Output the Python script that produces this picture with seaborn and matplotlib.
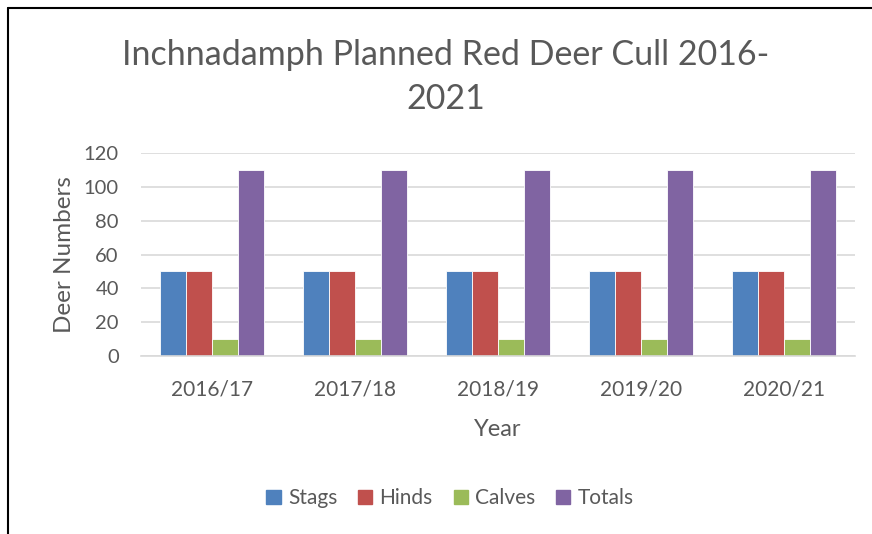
import numpy as np
import pandas as pd
import matplotlib
matplotlib.use('agg')
import matplotlib.pyplot as plt
import seaborn as sns
from matplotlib.lines import Line2D

years = ["2016/17", "2017/18", "2018/19", "2019/20", "2020/21"]
stags = [50, 50, 50, 50, 50]
hinds = [50, 50, 50, 50, 50]
calves = [10, 10, 10, 10, 10]
totals = [110, 110, 110, 110, 110]
series = ["Stags", "Hinds", "Calves", "Totals"]
colors = ["#4F81BD", "#C0504D", "#9BBB59", "#8064A2"]

df = pd.DataFrame({
    "Year": years * 4,
    "Series": [s for s in series for _ in years],
    "Value": stags + hinds + calves + totals,
})

sns.set_style("white")
plt.rcParams['font.family'] = ['Lato', 'DejaVu Sans']
txt = "#595959"

fig = plt.figure(figsize=(8.72, 5.34), dpi=100)
ax = fig.add_axes([141/872, 178/534, 714/872, 203/534])

sns.barplot(data=df, x="Year", y="Value", hue="Series", palette=colors,
            saturation=1, width=0.728, ax=ax, edgecolor="white", linewidth=0.6,
            legend=False)

ax.set_ylim(0, 120)
ax.set_xlim(-0.5, 4.5)
ax.set_yticks(range(0, 121, 20))
ax.yaxis.grid(True, color="#D9D9D9", linewidth=1.2)
ax.set_axisbelow(True)
for s in ["top", "right", "left"]:
    ax.spines[s].set_visible(False)
ax.spines["bottom"].set_color("#D9D9D9")
ax.spines["bottom"].set_linewidth(1.2)
ax.tick_params(axis="x", length=0, labelsize=15, labelcolor=txt, pad=17)
ax.tick_params(axis="y", length=0, labelsize=14.5, labelcolor=txt, pad=16)
ax.set_xlabel("Year", fontsize=17, color=txt, labelpad=14)
ax.set_ylabel("Deer Numbers", fontsize=17.5, color=txt, labelpad=6)

fig.text(446/872, 1 - 77/534, "Inchnadamph Planned Red Deer Cull 2016-\n2021",
         ha="center", va="center", fontsize=24.5, color=txt, linespacing=1.45)

handles = [plt.Rectangle((0, 0), 1, 1, color=c) for c in colors]
fig.legend(handles, series, loc="center", bbox_to_anchor=(450/872, 1 - 498/534),
           ncol=4, frameon=False, fontsize=15, handlelength=0.68, handleheight=0.68,
           handletextpad=0.35, columnspacing=1.0, labelcolor=txt)

fig.add_artist(Line2D([8/872, 1], [1 - 8/534, 1 - 8/534], color="black", linewidth=1.5))
fig.add_artist(Line2D([8/872, 8/872], [0, 1 - 8/534], color="black", linewidth=1.5))

fig.savefig("out.png", dpi=100)
